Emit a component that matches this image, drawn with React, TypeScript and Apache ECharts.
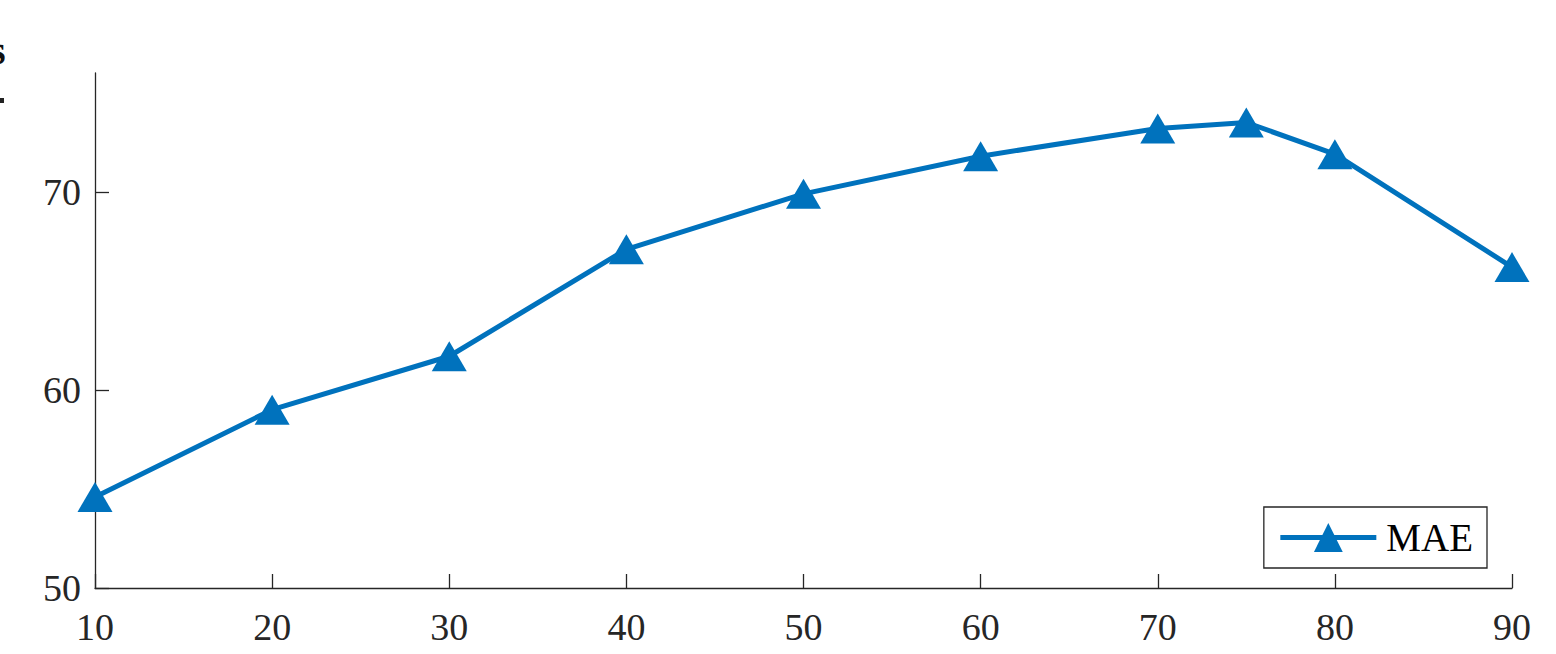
import React, { useEffect, useRef } from "react";
import * as echarts from "echarts";

const xValues = [10, 20, 30, 40, 50, 60, 70, 75, 80, 90];
const maeValues = [54.6, 59.0, 61.7, 67.1, 69.9, 71.8, 73.2, 73.5, 71.9, 66.2];
const xTicks = [10, 20, 30, 40, 50, 60, 70, 80, 90];
const yTicks = [50, 60, 70];
const seriesName = "MAE";

const FONT = "'Liberation Serif', 'Times New Roman', serif";
const TEXT = "#262626";
const BLUE = "#0072BD";

export default function App() {
  const ref = useRef<HTMLDivElement>(null);
  useEffect(() => {
    if (!ref.current) return;
    const chart = echarts.init(ref.current, null, { renderer: "svg" });
    chart.setOption({
      animation: false,
      backgroundColor: "#ffffff",
      grid: { left: 95, right: 44, top: 73, bottom: 66, containLabel: false },
      xAxis: {
        type: "value",
        min: 10,
        max: 90,
        interval: 10,
        axisLine: { show: true, onZero: false, lineStyle: { color: TEXT, width: 1.3 } },
        axisTick: { show: true, inside: true, length: 14, customValues: xTicks, lineStyle: { color: TEXT, width: 1.3 } },
        axisLabel: {
          color: TEXT,
          fontFamily: FONT,
          fontSize: 38,
          margin: 20,
          customValues: xTicks,
        },
        splitLine: { show: false },
      },
      yAxis: {
        type: "value",
        min: 50,
        max: 76,
        interval: 10,
        axisLine: { show: true, lineStyle: { color: TEXT, width: 1.3 } },
        axisTick: { show: true, inside: true, length: 14, customValues: yTicks, lineStyle: { color: TEXT, width: 1.3 } },
        axisLabel: { color: TEXT, fontFamily: FONT, fontSize: 38, margin: 14, customValues: yTicks },
        splitLine: { show: false },
      },
      legend: {
        show: true,
        right: 69,
        bottom: 86,
        orient: "vertical",
        backgroundColor: "#ffffff",
        borderColor: "#262626",
        borderWidth: 1.3,
        borderRadius: 0,
        padding: [11, 14, 11, 14],
        itemWidth: 96,
        itemHeight: 36,
        itemGap: 10,
        lineStyle: { width: 5, color: BLUE },
        textStyle: { color: "#000000", fontFamily: FONT, fontSize: 39, padding: [0, 0, 0, 5] },
        data: [seriesName],
      },
      series: [
        {
          name: seriesName,
          type: "line",
          data: xValues.map((x, i) => [x, maeValues[i]]),
          color: BLUE,
          lineStyle: { color: BLUE, width: 5 },
          symbol: "triangle",
          symbolSize: [35, 30],
          itemStyle: { color: BLUE },
          showSymbol: true,
          clip: false,
        },
      ],
      graphic: [
        {
          type: "text",
          x: -10,
          y: 30,
          style: { text: "s", fontFamily: FONT, fontSize: 40, fontWeight: "bold", fill: "#111111" },
        },
        {
          type: "rect",
          shape: { x: 0, y: 98, width: 4, height: 5 },
          style: { fill: "#222222" },
        },
      ],
    });
    return () => chart.dispose();
  }, []);
  return <div ref={ref} style={{ width: 1556, height: 654, position: "absolute", left: 0, top: 0 }} />;
}
